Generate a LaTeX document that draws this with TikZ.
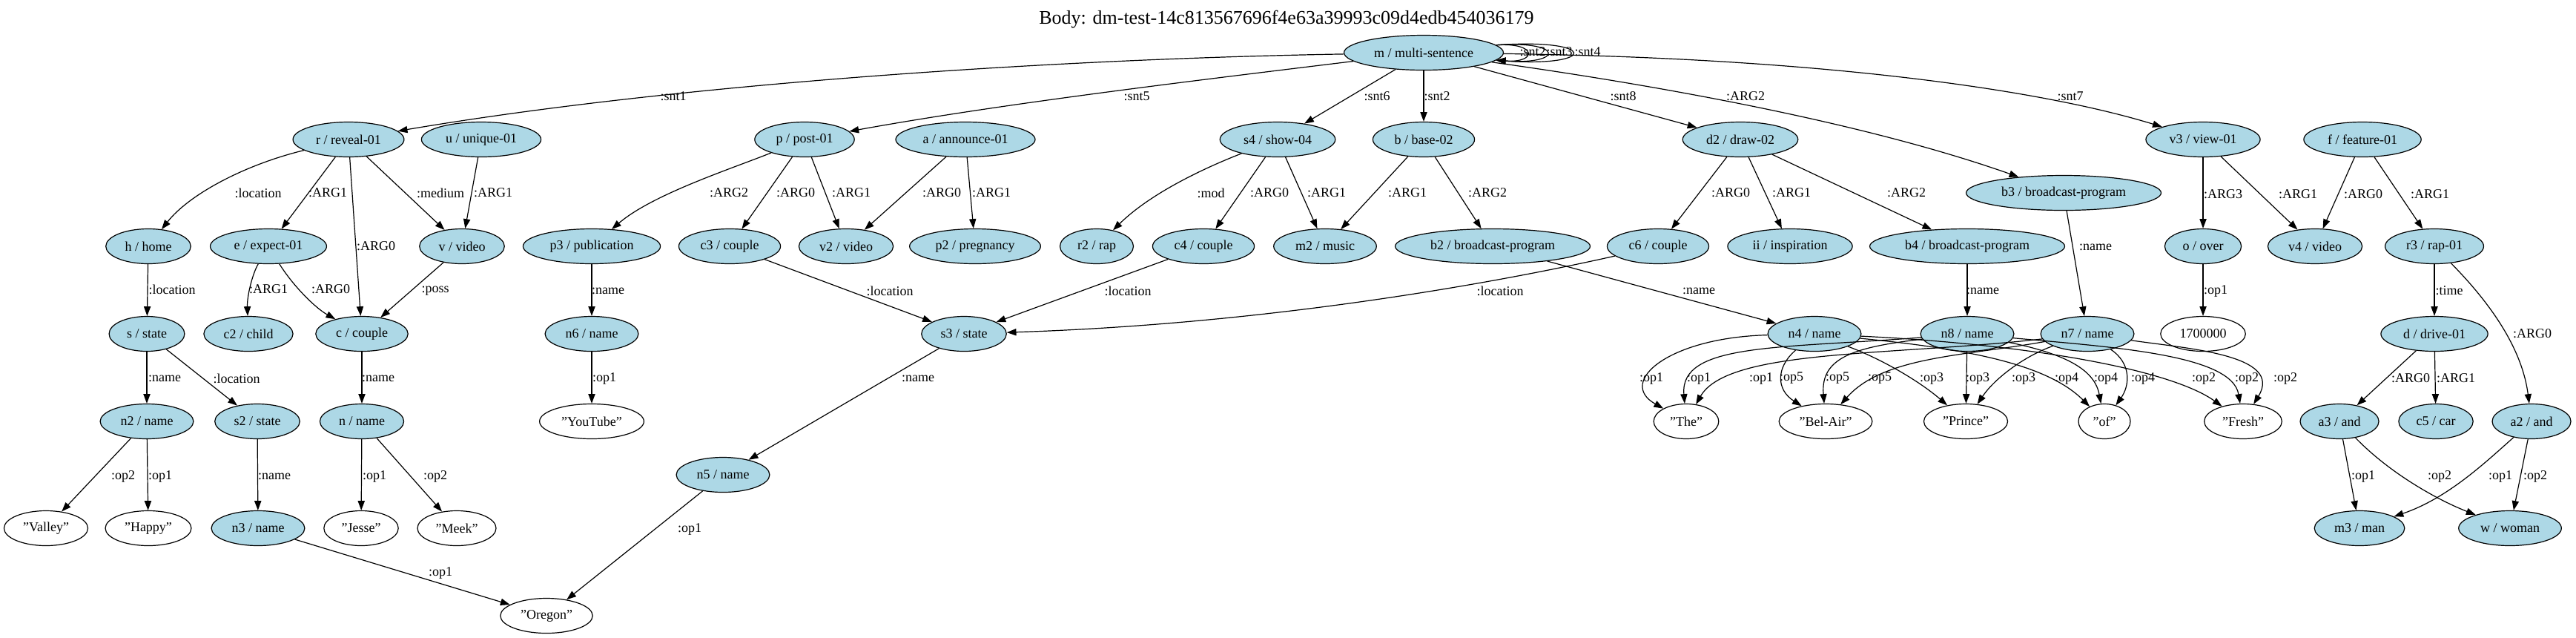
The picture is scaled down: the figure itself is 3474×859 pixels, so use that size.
\documentclass[tikz,border=0pt]{standalone}
\usepackage{fontspec}
\setmainfont{Liberation Serif}
\usetikzlibrary{arrows.meta,shapes.geometric}
\definecolor{conceptblue}{HTML}{ADD8E6}

\begin{document}
\begin{tikzpicture}
    [x=0.5pt,y=-0.5pt,
    every node/.style={font=\fontsize{9}{10.8}\selectfont},
    concept/.style={ellipse, draw, line width=0.6pt, fill=conceptblue,
      minimum width=35pt, minimum height=23.5pt, inner xsep=4.5pt, inner ysep=1pt},
    str/.style={concept, fill=white},
    lbl/.style={inner sep=0pt},
    link/.style={line width=0.6pt, -{Triangle[length=6.4pt,width=4.6pt]}}]
    \useasboundingbox (0,0) rectangle (3474,859);

    \node[font=\fontsize{13}{15.6}\selectfont] (title) at (1735,26) {Body: dm-test-14c813567696f4e63a39993c09d4edb454036179};

    \node[concept] (m) at (1920,71) {m / multi-sentence};

    \node[concept] (r) at (470,188) {r / reveal-01};
    \node[concept] (u) at (649,188) {u / unique-01};
    \node[concept] (p) at (1085,188) {p / post-01};
    \node[concept] (a) at (1302,188) {a / announce-01};
    \node[concept] (s4) at (1723,188) {s4 / show-04};
    \node[concept] (b) at (1920,188) {b / base-02};
    \node[concept] (d2) at (2347,188) {d2 / draw-02};
    \node[concept] (v3) at (2971,188) {v3 / view-01};
    \node[concept] (f) at (3186,188) {f / feature-01};
    \node[concept] (b3) at (2783,260) {b3 / broadcast-program};

    \node[concept] (h) at (200,332) {h / home};
    \node[concept] (e) at (362,332) {e / expect-01};
    \node[concept] (v) at (623,332) {v / video};
    \node[concept] (p3) at (798,332) {p3 / publication};
    \node[concept] (c3) at (984,332) {c3 / couple};
    \node[concept] (v2) at (1141,332) {v2 / video};
    \node[concept] (p2) at (1315,332) {p2 / pregnancy};
    \node[concept] (r2) at (1479,332) {r2 / rap};
    \node[concept] (c4) at (1623,332) {c4 / couple};
    \node[concept] (m2) at (1787,332) {m2 / music};
    \node[concept] (b2) at (2013,332) {b2 / broadcast-program};
    \node[concept] (c6) at (2236,332) {c6 / couple};
    \node[concept] (ii) at (2414,332) {ii / inspiration};
    \node[concept] (b4) at (2653,332) {b4 / broadcast-program};
    \node[concept] (o) at (2971,332) {o / over};
    \node[concept] (v4) at (3122,332) {v4 / video};
    \node[concept] (r3) at (3283,332) {r3 / rap-01};

    \node[concept] (s) at (198,450) {s / state};
    \node[concept] (c2) at (335,450) {c2 / child};
    \node[concept] (c) at (488,450) {c / couple};
    \node[concept] (n6) at (798,450) {n6 / name};
    \node[concept] (s3) at (1300,450) {s3 / state};
    \node[concept] (n4) at (2447,450) {n4 / name};
    \node[concept] (n8) at (2653,450) {n8 / name};
    \node[concept] (n7) at (2815,450) {n7 / name};
    \node[str] (num) at (2971,450) {1700000};
    \node[concept] (d) at (3283,450) {d / drive-01};

    \node[concept] (n2) at (198,568) {n2 / name};
    \node[concept] (s2) at (347,568) {s2 / state};
    \node[concept] (n) at (488,568) {n / name};
    \node[str] (youtube) at (798,568) {"YouTube"};
    \node[str] (the) at (2274,568) {"The"};
    \node[str] (belair) at (2462,568) {"Bel-Air"};
    \node[str] (prince) at (2651,568) {"Prince"};
    \node[str] (of) at (2838,568) {"of"};
    \node[str] (fresh) at (3025,568) {"Fresh"};
    \node[concept] (a3) at (3155,568) {a3 / and};
    \node[concept] (c5) at (3285,568) {c5 / car};
    \node[concept] (a2) at (3414,568) {a2 / and};
    \node[concept] (n5) at (975,640) {n5 / name};

    \node[str] (valley) at (62,712) {"Valley"};
    \node[str] (happy) at (200,712) {"Happy"};
    \node[concept] (n3) at (348,712) {n3 / name};
    \node[str] (jesse) at (487,712) {"Jesse"};
    \node[str] (meek) at (616,712) {"Meek"};
    \node[concept] (m3) at (3182,712) {m3 / man};
    \node[concept] (w) at (3385,712) {w / woman};
    \node[str] (oregon) at (737,830) {"Oregon"};

    % straight edges
    \foreach \from/\to/\lab/\lx/\ly in {m/s4/:snt6/1857/130, m/b/:snt2/1938/130, m/d2/:snt8/2189/130,
      r/e/:ARG1/442/260, r/c/:ARG0/507/332, r/v/:medium/594/260, u/v/:ARG1/665/260,
      h/s/:location/232/390, v/c/:poss/587/392,
      s/n2/:name/222/510, s/s2/:location/319/510, c/n/:name/510/510,
      n2/valley/:op2/166/642, n2/happy/:op1/216/642, s2/n3/:name/370/642,
      n/jesse/:op1/505/642, n/meek/:op2/587/642, n3/oregon/:op1/594/772,
      p/c3/:ARG0/1073/260, p/v2/:ARG1/1148/260, a/v2/:ARG0/1270/260, a/p2/:ARG1/1337/260,
      p3/n6/:name/820/392, c3/s3/:location/1200/392, n6/youtube/:op1/815/510,
      s3/n5/:name/1238/510, n5/oregon/:op1/930/713,
      s4/c4/:ARG0/1712/260, s4/m2/:ARG1/1789/260, b/m2/:ARG1/1898/260, b/b2/:ARG2/2006/260,
      c4/s3/:location/1521/392, b2/n4/:name/2291/392,
      d2/c6/:ARG0/2334/260, d2/ii/:ARG1/2416/260, d2/b4/:ARG2/2571/260,
      b4/n8/:name/2674/392, b3/n7/:name/2826/333, n8/prince/:op3/2667/510,
      v3/o/:ARG3/2998/262, v3/v4/:ARG1/3099/262, f/v4/:ARG0/3187/262, f/r3/:ARG1/3277/262,
      o/num/:op1/2988/392, r3/d/:time/3303/392, d/a3/:ARG0/3251/510, d/c5/:ARG1/3312/510,
      a3/m3/:op1/3187/642, a2/w/:op2/3419/642}
    \draw[link] (\from) -- (\to) node[lbl] at (\lx,\ly) {\lab};

    % curved edges
    \draw[link] (m) .. controls (1400,80) and (900,115) .. (r) node[lbl] at (908,130) {:snt1};
    \draw[link] (m) .. controls (1600,110) and (1350,140) .. (p) node[lbl] at (1533,130) {:snt5};
    \draw[link] (m) .. controls (2200,110) and (2500,160) .. (b3) node[lbl] at (2354,130) {:ARG2};
    \draw[link] (m) .. controls (2450,78) and (2750,120) .. (v3) node[lbl] at (2792,130) {:snt7};
    \draw[link] (m.6) to[out=4,in=-4,distance=28pt] (m.-6) node[lbl] at (2067,70) {:snt2};
    \draw[link] (m.6) to[out=4,in=-4,distance=46pt] (m.-6) node[lbl] at (2103,70) {:snt3};
    \draw[link] (m.6) to[out=4,in=-4,distance=69pt] (m.-6) node[lbl] at (2141,70) {:snt4};

    \draw[link] (r) .. controls (330,222) and (255,262) .. (h) node[lbl] at (348,260) {:location};
    \draw[link] (e) .. controls (340,370) and (333,400) .. (c2) node[lbl] at (362,390) {:ARG1};
    \draw[link] (e) .. controls (395,385) and (425,415) .. (c) node[lbl] at (446,390) {:ARG0};
    \draw[link] (p) .. controls (985,228) and (880,262) .. (p3) node[lbl] at (983,260) {:ARG2};
    \draw[link] (s4) .. controls (1620,228) and (1550,262) .. (r2) node[lbl] at (1633,260) {:mod};
    \draw[link] (c6) .. controls (2000,385) and (1700,437) .. (s3) node[lbl] at (2023,392) {:location};
    \draw[link] (r3) .. controls (3345,395) and (3400,460) .. (a2) node[lbl] at (3415,450) {:ARG0};
    \draw[link] (a3) .. controls (3225,640) and (3290,675) .. (w) node[lbl] at (3290,642) {:op2};
    \draw[link] (a2) .. controls (3350,625) and (3300,672) .. (m3) node[lbl] at (3372,642) {:op1};

    % the three names of the show
    \draw[link] (n4) .. controls (2250,455) and (2180,515) .. (the) node[lbl] at (2227,510) {:op1};
    \draw[link] (n4) .. controls (2395,495) and (2395,525) .. (belair) node[lbl] at (2416,510) {:op5};
    \draw[link] (n4) .. controls (2540,485) and (2590,515) .. (prince) node[lbl] at (2605,510) {:op3};
    \draw[link] (n4) .. controls (2650,470) and (2760,490) .. (of) node[lbl] at (2787,510) {:op4};
    \draw[link] (n4) .. controls (2750,465) and (2930,500) .. (fresh) node[lbl] at (2972,510) {:op2};
    \draw[link] (n8) .. controls (2400,470) and (2265,462) .. (the) node[lbl] at (2291,510) {:op1};
    \draw[link] (n8) .. controls (2500,468) and (2455,482) .. (belair) node[lbl] at (2478,510) {:op5};
    \draw[link] (n8) .. controls (2790,478) and (2825,500) .. (of) node[lbl] at (2840,510) {:op4};
    \draw[link] (n8) .. controls (2850,468) and (3010,478) .. (fresh) node[lbl] at (3030,510) {:op2};
    \draw[link] (n7) .. controls (2550,480) and (2330,470) .. (the) node[lbl] at (2375,510) {:op1};
    \draw[link] (n7) .. controls (2650,480) and (2540,480) .. (belair) node[lbl] at (2535,510) {:op5};
    \draw[link] (n7) .. controls (2730,480) and (2690,510) .. (prince) node[lbl] at (2729,510) {:op3};
    \draw[link] (n7) .. controls (2875,490) and (2872,520) .. (of) node[lbl] at (2890,510) {:op4};
    \draw[link] (n7) .. controls (2950,470) and (3080,478) .. (fresh) node[lbl] at (3082,510) {:op2};
\end{tikzpicture}
\end{document}
